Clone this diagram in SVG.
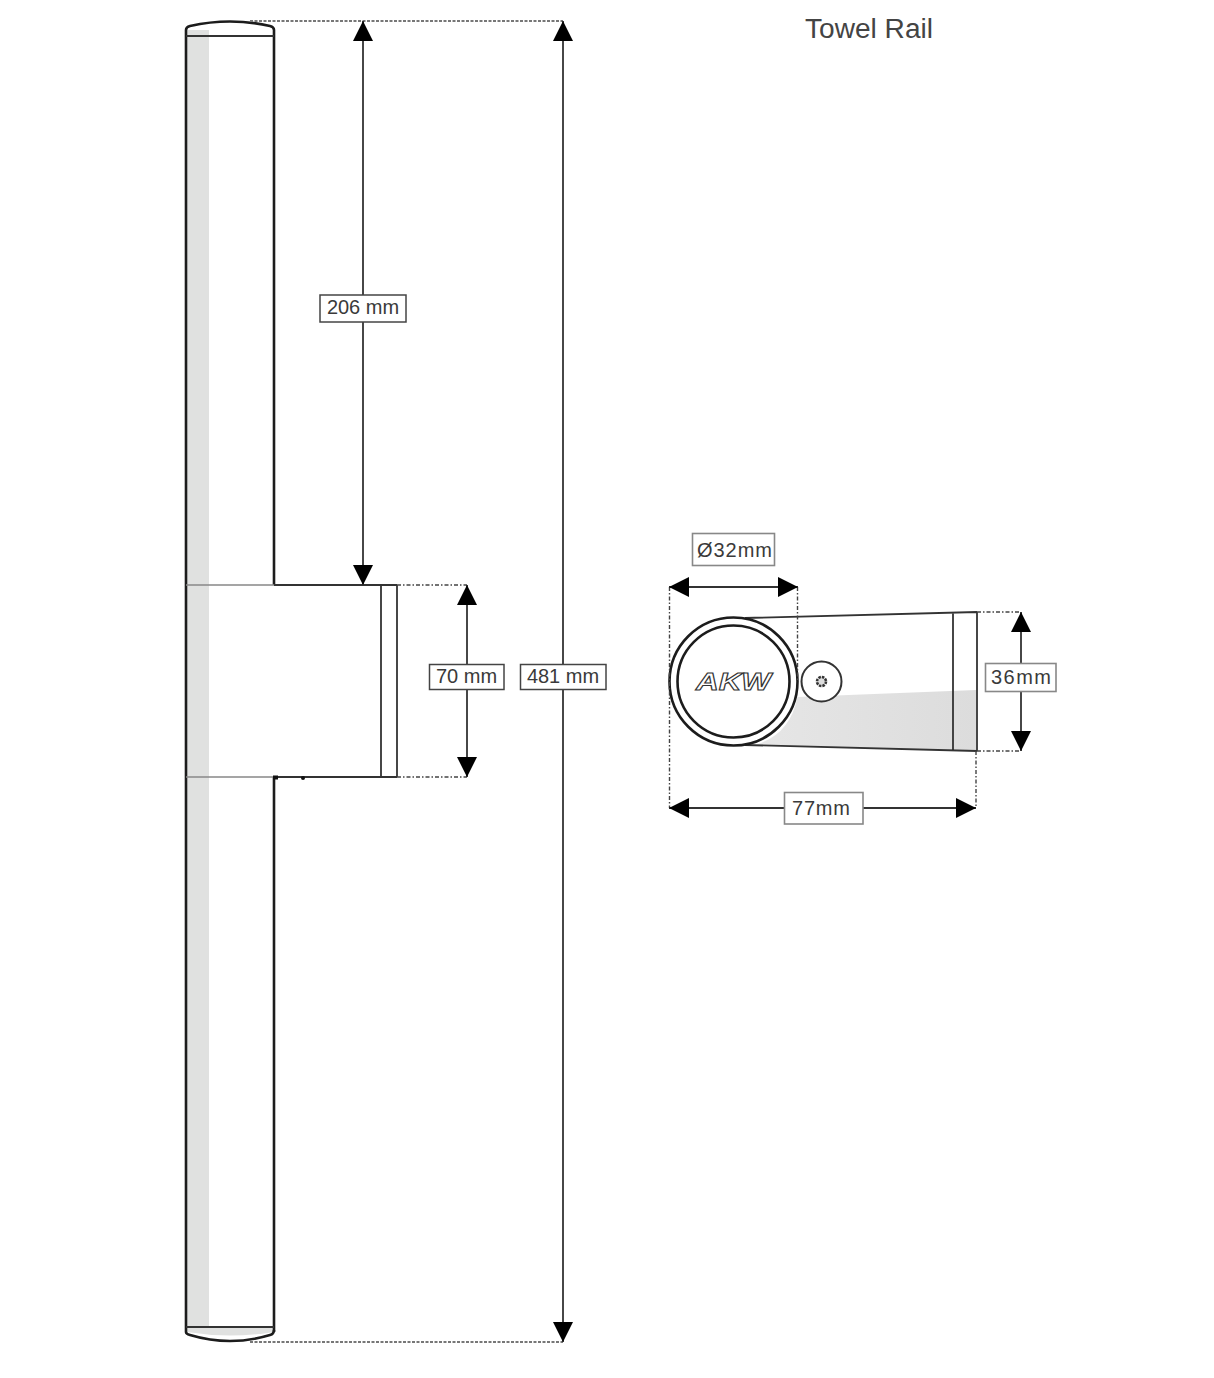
<svg xmlns="http://www.w3.org/2000/svg" width="1214" height="1378" viewBox="0 0 1214 1378">
<style>
.o{fill:none;stroke:#1c1c1c;stroke-width:2.6}
.m{fill:none;stroke:#333;stroke-width:1.8}
.f{fill:none;stroke:#888;stroke-width:1.6}
.d{fill:none;stroke:#444;stroke-width:1.4;stroke-dasharray:4 2 1.5 2}
.s{fill:none;stroke:#777;stroke-width:1.8;stroke-dasharray:3 1.5}
.a{fill:none;stroke:#333;stroke-width:1.8;marker-start:url(#h);marker-end:url(#h)}
.b{fill:#fff;stroke:#444;stroke-width:1.5}
.bg{fill:#fff;stroke:#888;stroke-width:1.6}
.t{font-family:"Liberation Sans",Arial,sans-serif;font-size:20px;fill:#3a3a3a;text-anchor:middle}
.g{fill:#e0e1e0}
</style>
<defs>
<marker id="h" viewBox="0 0 20 20" refX="20" refY="10" markerWidth="20" markerHeight="20" markerUnits="userSpaceOnUse" orient="auto-start-reverse"><path d="M0 0L20 10L0 20Z" fill="#000"/></marker>
<linearGradient id="fade" x1="0" x2="1" y1="0" y2="0"><stop offset="0" stop-color="#e6e6e6"/><stop offset="1" stop-color="#dcdcdc"/></linearGradient>
</defs>
<rect width="1214" height="1378" fill="#fff"/>

<g id="rail-front">
<rect class="g" x="187" y="30" width="22" height="1296"/>
<path class="g" d="M187 1328H274V1332Q230 1339 187 1332Z"/>
<path class="o" d="M186 1332V30Q186 27 190 26Q230 17 270 26Q274 27 274 30V585"/>
<path class="o" d="M274 777V1332"/>
<path class="o" d="M186 1332Q186 1334 190 1335Q230 1347 270 1335Q274 1334 274 1330"/>
<path class="m" d="M186 36H274M186 1327H274"/>
</g>

<g id="bracket-front">
<path class="f" d="M186 585H274M186 777H274"/>
<path class="m" d="M274 585H397M274 777H397M381 585V777M397 585V777"/>
<circle cx="303" cy="778" r="2" fill="#111"/>
<rect x="273" y="775.500" width="5" height="4" fill="#111"/>
</g>

<g id="side-view">
<path d="M797.500 697L976 690V751L755 745Q790 735 797.500 697Z" fill="url(#fade)"/>
<path class="m" d="M745 618L977 612M745 745L977 751M953 613V750M977 612V751"/>
<circle cx="733.500" cy="681.500" r="64" fill="#fff" class="o"/>
<circle cx="733.500" cy="681.500" r="56" class="o"/>
<circle cx="821.500" cy="681.500" r="20" fill="#fff" stroke="#333" stroke-width="2"/>
<circle cx="821.500" cy="681.500" r="4.500" fill="#ddd" stroke="#333" stroke-width="2.600" stroke-dasharray="2.500 1"/>
<text x="696" y="690" textLength="75" lengthAdjust="spacingAndGlyphs" font-family="Liberation Sans,Arial,sans-serif" font-size="24" font-style="italic" font-weight="bold" fill="#fff" stroke="#333" stroke-width="1">AKW</text>
</g>

<g id="title"><text x="805" y="38" textLength="128" lengthAdjust="spacingAndGlyphs" font-family="Liberation Sans,Arial,sans-serif" font-size="27" fill="#444">Towel Rail</text></g>

<g id="connectors">
<path class="s" d="M250 21H563M250 1342H563"/>
<path class="d" d="M397 585H467M397 777H467M977 612H1021M977 751H1021M669.500 587V808M797.500 587V680M976 751V808"/>
<path class="a" d="M363 21V585"/>
<path class="a" d="M563 21V1342"/>
<path class="a" d="M467 585V777"/>
<path class="a" d="M669 587H798"/>
<path class="a" d="M669 808H976"/>
<path class="a" d="M1021 612V751"/>
</g>

<g id="label-206"><rect class="b" x="320" y="295" width="86" height="27"/><text class="t" x="363" y="314">206 mm</text></g>
<g id="label-70"><rect class="b" x="429.500" y="664.500" width="74.500" height="25"/><text class="t" x="466.500" y="683">70 mm</text></g>
<g id="label-481"><rect class="b" x="520.500" y="664.500" width="85.500" height="25"/><text class="t" x="563" y="683">481 mm</text></g>
<g id="label-32"><rect class="bg" x="692.500" y="533.500" width="82" height="32"/><text class="t" x="734.500" y="557" textLength="75">Ø32mm</text></g>
<g id="label-77"><rect class="bg" x="784.500" y="792.500" width="78.500" height="31.500"/><text class="t" x="821" y="815" textLength="58">77mm</text></g>
<g id="label-36"><rect class="bg" x="985.500" y="663.500" width="70.500" height="28"/><text class="t" x="1021" y="684" textLength="60">36mm</text></g>
</svg>
